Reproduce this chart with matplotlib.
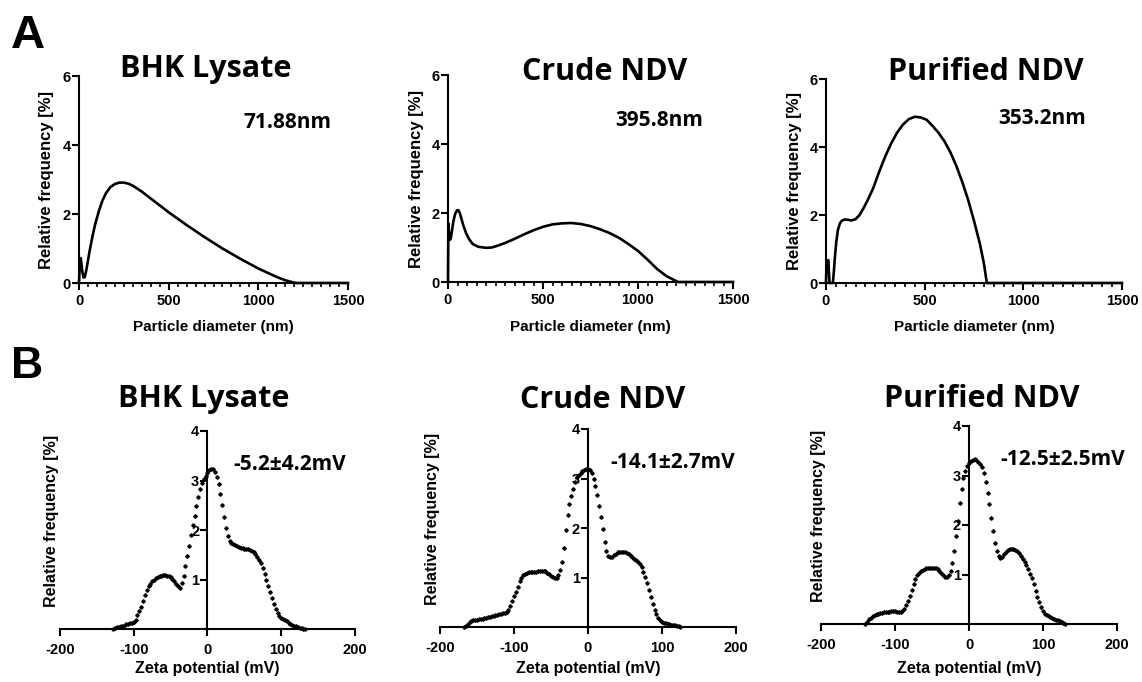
import numpy as np
import matplotlib
matplotlib.use("Agg")
import matplotlib.pyplot as plt
from matplotlib.ticker import MultipleLocator

plt.rcParams["axes.unicode_minus"] = False

W, H = 1142, 682

# ---- A: particle size distributions (diameter in nm, relative frequency in %) ----
size_titles = ["BHK Lysate", "Crude NDV", "Purified NDV"]
size_notes = ["71.88nm", "395.8nm", "353.2nm"]

bhk_d = [0, 5, 10, 18, 25, 32, 40, 50, 60, 75, 90, 110, 130, 150, 175, 200, 225, 250,
         275, 300, 350, 400, 450, 500, 600, 700, 800, 900, 1000, 1100, 1150, 1200, 1210, 1500]
bhk_f = [0, 0.60, 0.72, 0.35, 0.16, 0.17, 0.35, 0.65, 0.95, 1.35, 1.70, 2.07, 2.38, 2.60,
         2.78, 2.87, 2.91, 2.91, 2.88, 2.82, 2.65, 2.45, 2.25, 2.05, 1.68, 1.33, 1.00, 0.70,
         0.42, 0.18, 0.08, 0.01, 0, 0]

crude_d = [0, 2, 5, 9, 14, 20, 28, 38, 48, 55, 62, 70, 80, 95, 110, 130, 160, 200, 230,
           260, 300, 350, 400, 450, 500, 550, 600, 650, 700, 750, 800, 850, 900, 950, 1000,
           1050, 1100, 1150, 1200, 1210, 1500]
crude_f = [0, 1.70, 1.45, 1.22, 1.25, 1.45, 1.75, 1.98, 2.08, 2.08, 2.00, 1.85, 1.65, 1.42,
           1.25, 1.10, 1.02, 0.99, 1.00, 1.05, 1.13, 1.25, 1.38, 1.50, 1.60, 1.67, 1.70, 1.71,
           1.68, 1.62, 1.53, 1.42, 1.28, 1.10, 0.90, 0.65, 0.38, 0.17, 0.03, 0, 0]

pure_d = [0, 3, 6, 12, 15, 18, 35, 40, 45, 52, 60, 70, 80, 95, 110, 130, 150, 170, 190, 210,
          240, 270, 300, 330, 360, 390, 420, 450, 480, 510, 540, 570, 600, 630, 660, 690, 720,
          750, 780, 800, 815, 1500]
pure_f = [0, 0.67, 0.67, 0.67, 0.30, 0, 0, 0.35, 0.75, 1.20, 1.55, 1.75, 1.83, 1.87, 1.86,
          1.84, 1.88, 2.00, 2.20, 2.42, 2.80, 3.28, 3.72, 4.10, 4.42, 4.66, 4.82, 4.89, 4.87,
          4.80, 4.62, 4.42, 4.17, 3.85, 3.45, 2.98, 2.45, 1.83, 1.15, 0.58, 0, 0]

# ---- B: zeta potential distributions (mV, relative frequency in %), 2.5 mV bins ----
zeta_titles = ["BHK Lysate", "Crude NDV", "Purified NDV"]
zeta_notes = ["-5.2\u00b14.2mV", "-14.1\u00b12.7mV", "-12.5\u00b12.5mV"]

bhk_z_range = (-127.5, 132.5)
bhk_z = [0.00, 0.02, 0.04, 0.05, 0.06, 0.07, 0.09, 0.10, 0.11, 0.12, 0.13, 0.15, 0.19, 0.28,
         0.36, 0.45, 0.57, 0.68, 0.78, 0.86, 0.91, 0.96, 1.00, 1.03, 1.05, 1.07, 1.08, 1.09,
         1.09, 1.08, 1.07, 1.05, 1.01, 0.96, 0.91, 0.86, 0.83, 0.92, 1.07, 1.27, 1.48, 1.68,
         1.90, 2.10, 2.29, 2.48, 2.66, 2.82, 2.95, 3.04, 3.10, 3.16, 3.21, 3.24, 3.23, 3.18,
         3.08, 2.92, 2.72, 2.50, 2.27, 2.05, 1.88, 1.78, 1.73, 1.71, 1.69, 1.67, 1.65, 1.64,
         1.63, 1.62, 1.62, 1.61, 1.60, 1.58, 1.55, 1.51, 1.46, 1.40, 1.33, 1.23, 1.11, 0.98,
         0.86, 0.74, 0.62, 0.51, 0.41, 0.33, 0.27, 0.23, 0.20, 0.18, 0.16, 0.13, 0.11, 0.09,
         0.07, 0.06, 0.04, 0.03, 0.02, 0.01, 0.00]

crude_z_range = (-167.5, 125)
crude_z = [0.00, 0.02, 0.06, 0.10, 0.13, 0.14, 0.15, 0.15, 0.16, 0.16, 0.17, 0.18, 0.19, 0.20,
           0.21, 0.22, 0.23, 0.24, 0.25, 0.26, 0.27, 0.28, 0.29, 0.31, 0.35, 0.43, 0.52, 0.62,
           0.71, 0.81, 0.92, 1.00, 1.05, 1.08, 1.10, 1.11, 1.12, 1.12, 1.12, 1.12, 1.13, 1.13,
           1.14, 1.14, 1.13, 1.10, 1.07, 1.04, 1.01, 0.99, 0.98, 1.05, 1.16, 1.32, 1.60, 1.95,
           2.26, 2.48, 2.65, 2.79, 2.93, 3.03, 3.08, 3.12, 3.15, 3.18, 3.20, 3.20, 3.18, 3.12,
           3.00, 2.84, 2.66, 2.45, 2.22, 1.97, 1.72, 1.53, 1.44, 1.41, 1.42, 1.45, 1.48, 1.51,
           1.52, 1.52, 1.52, 1.51, 1.49, 1.47, 1.44, 1.41, 1.38, 1.35, 1.31, 1.27, 1.21, 1.12,
           1.01, 0.88, 0.74, 0.61, 0.47, 0.35, 0.26, 0.19, 0.14, 0.11, 0.09, 0.08, 0.07, 0.06,
           0.05, 0.05, 0.04, 0.03, 0.02, 0.00]

pure_z_range = (-140, 130)
pure_z = [0.00, 0.05, 0.10, 0.13, 0.16, 0.18, 0.20, 0.21, 0.22, 0.23, 0.24, 0.24, 0.25, 0.25,
          0.26, 0.26, 0.26, 0.25, 0.24, 0.24, 0.26, 0.31, 0.38, 0.47, 0.57, 0.69, 0.80, 0.90,
          0.98, 1.04, 1.08, 1.10, 1.12, 1.13, 1.14, 1.14, 1.14, 1.14, 1.13, 1.11, 1.08, 1.04,
          0.99, 0.95, 0.94, 0.98, 1.08, 1.23, 1.48, 1.78, 2.08, 2.45, 2.73, 2.95, 3.10, 3.19,
          3.25, 3.29, 3.32, 3.33, 3.31, 3.28, 3.24, 3.17, 3.05, 2.86, 2.65, 2.43, 2.15, 1.88,
          1.64, 1.47, 1.37, 1.34, 1.36, 1.41, 1.46, 1.49, 1.51, 1.52, 1.52, 1.50, 1.47, 1.43,
          1.38, 1.32, 1.26, 1.19, 1.11, 1.02, 0.92, 0.80, 0.66, 0.55, 0.44, 0.35, 0.26, 0.21,
          0.18, 0.16, 0.15, 0.13, 0.11, 0.09, 0.08, 0.06, 0.04, 0.02, 0.00]

TITLE_FONT = "Open Sans"
TICK_FONT = "Liberation Sans"


def rect(left, right, top, bottom):
    # pixel box -> figure fraction
    return [left / W, 1 - bottom / H, (right - left) / W, (bottom - top) / H]


def ftext(x, y, s, **kw):
    fig.text(x / W, 1 - y / H, s, **kw)


fig = plt.figure(figsize=(W / 100, H / 100), dpi=100)

# axes boxes in pixels: left, right, top, bottom
size_boxes = [(79, 348, 76, 283), (448, 733, 75, 282), (826, 1122, 79, 283)]
zeta_boxes = [(60, 355, 431, 629), (440, 736, 429, 627), (821, 1117, 426, 624)]

size_data = [(bhk_d, bhk_f), (crude_d, crude_f), (pure_d, pure_f)]
zeta_data = [(bhk_z_range, bhk_z), (crude_z_range, crude_z), (pure_z_range, pure_z)]

size_title_pos = [(206, 77), (605, 80), (986, 80)]
size_note_pos = [(287, 128), (659, 126), (1042, 124)]
zeta_title_pos = [(204, 407), (603, 408), (982, 407)]
zeta_note_pos = [(290, 470), (673, 468), (1063, 465)]
zeta_ylab_x = [52, 433, 818]

for i in range(3):
    l, r, t, b = size_boxes[i]
    ax = fig.add_axes(rect(l, r, t, b))
    d, f = size_data[i]
    ax.plot(d, f, color="black", lw=1.9, solid_joinstyle="round", clip_on=False)
    ax.set_xlim(0, 1500)
    ax.set_ylim(0, 6)
    ax.set_xticks([0, 500, 1000, 1500])
    ax.set_yticks([0, 2, 4, 6])
    ax.xaxis.set_minor_locator(MultipleLocator(50))
    for s in ["top", "right"]:
        ax.spines[s].set_visible(False)
    for s in ["left", "bottom"]:
        ax.spines[s].set_linewidth(1.5)
    ax.tick_params(which="major", length=5, width=1.5, pad=3)
    ax.tick_params(axis="x", which="minor", length=3, width=1.2)
    ax.tick_params(axis="y", pad=1)
    for lab in ax.get_xticklabels() + ax.get_yticklabels():
        lab.set_fontfamily(TICK_FONT)
        lab.set_fontweight("bold")
        lab.set_fontsize(10.5)
    ax.set_xlabel("Particle diameter (nm)", fontfamily=TICK_FONT, fontweight="bold",
                  fontsize=11)
    ax.xaxis.set_label_coords(0.5, -(327 - b) / (b - t), transform=ax.transAxes)
    ax.xaxis.label.set_va("center")
    ax.set_ylabel("Relative frequency [%]", fontfamily=TICK_FONT, fontweight="bold",
                  fontsize=12)
    ax.yaxis.set_label_coords(-32 / (r - l), 0.5)
    ax.yaxis.label.set_va("center")

    x, y = size_title_pos[i]
    ftext(x, y, size_titles[i], ha="center", va="baseline", fontfamily=TITLE_FONT,
          fontweight="bold", fontsize=22)
    x, y = size_note_pos[i]
    ftext(x, y, size_notes[i], ha="center", va="baseline", fontfamily=TITLE_FONT,
          fontweight="bold", fontsize=15)

for i in range(3):
    l, r, t, b = zeta_boxes[i]
    ax = fig.add_axes(rect(l, r, t, b))
    (z0, z1), vals = zeta_data[i]
    zx = np.linspace(z0, z1, len(vals))
    ax.plot(zx, vals, linestyle="none", marker="D", ms=1.8, color="black", clip_on=False)
    ax.set_xlim(-200, 200)
    ax.set_ylim(0, 4)
    ax.set_xticks([-200, -100, 0, 100, 200])
    ax.set_yticks([1, 2, 3, 4])
    ax.spines["left"].set_position(("data", 0))
    for s in ["top", "right"]:
        ax.spines[s].set_visible(False)
    for s in ["left", "bottom"]:
        ax.spines[s].set_linewidth(1.5)
    ax.tick_params(length=5, width=1.5)
    ax.tick_params(axis="x", pad=5)
    ax.tick_params(axis="y", pad=1)
    for lab in ax.get_xticklabels() + ax.get_yticklabels():
        lab.set_fontfamily(TICK_FONT)
        lab.set_fontweight("bold")
        lab.set_fontsize(10.5)
    ax.set_xlabel("Zeta potential (mV)", fontfamily=TICK_FONT, fontweight="bold",
                  fontsize=11.5)
    ax.xaxis.set_label_coords(0.5, -(669 - b) / (b - t))
    ax.xaxis.label.set_va("center")
    ftext(zeta_ylab_x[i], (t + b) / 2 - 9, "Relative frequency [%]", rotation=90,
          ha="center", va="center", fontfamily=TICK_FONT, fontweight="bold", fontsize=11.5)

    x, y = zeta_title_pos[i]
    ftext(x, y, zeta_titles[i], ha="center", va="baseline", fontfamily=TITLE_FONT,
          fontweight="bold", fontsize=22)
    x, y = zeta_note_pos[i]
    ftext(x, y, zeta_notes[i], ha="center", va="baseline", fontfamily=TITLE_FONT,
          fontweight="bold", fontsize=15)

ftext(11, 48, "A", ha="left", va="baseline", fontfamily=TICK_FONT, fontweight="bold",
      fontsize=34)
ftext(11, 378, "B", ha="left", va="baseline", fontfamily=TICK_FONT, fontweight="bold",
      fontsize=32)

fig.savefig("out.png", dpi=100, facecolor="white")
